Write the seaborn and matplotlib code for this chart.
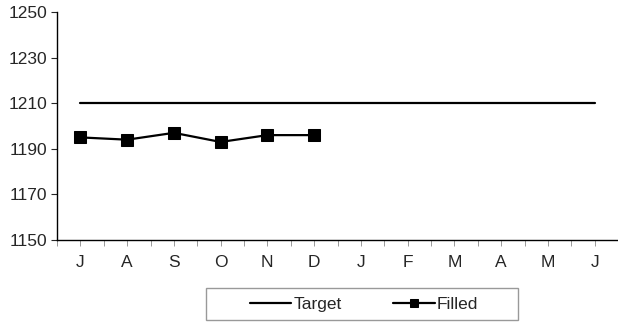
import matplotlib.pyplot as plt
import matplotlib.patches as mpatches
import numpy as np
import pandas as pd
import seaborn as sns

months = ['J', 'A', 'S', 'O', 'N', 'D', 'J', 'F', 'M', 'A', 'M', 'J']
target = [1210] * 12
filled = [1195, 1194, 1197, 1193, 1196, 1196]

sns.set_style("ticks")
plt.rcParams['font.family'] = ['Liberation Sans', 'DejaVu Sans']
plt.rcParams['font.size'] = 12.5

df_target = pd.DataFrame({'pos': np.arange(len(months)), 'value': target})
df_filled = pd.DataFrame({'pos': np.arange(len(filled)), 'value': filled})

fig = plt.figure(figsize=(6.18, 3.22), dpi=100)
ax = fig.add_axes([57 / 618, 1 - 240 / 322, 1 - 57 / 618, 228 / 322])

sns.lineplot(data=df_target, x='pos', y='value', color='black', linewidth=1.6,
             label='Target', ax=ax, legend=False)
sns.lineplot(data=df_filled, x='pos', y='value', color='black', linewidth=1.6,
             marker='s', markersize=8, markeredgecolor='black',
             label='Filled', ax=ax, legend=False)

ax.set_xlim(-0.5, 11.5)
ax.set_ylim(1150, 1250)
ax.set_yticks(np.arange(1150, 1251, 20))
ax.set_xticks(np.arange(len(months)))
ax.set_xticklabels(months)
ax.set_xticks(np.arange(-0.5, 12, 1), minor=True)
ax.tick_params(axis='x', which='both', length=4, width=0.6, color='#888888', pad=7)
ax.tick_params(axis='y', length=4, width=0.8, pad=3)
ax.set_xlabel('')
ax.set_ylabel('')
sns.despine(ax=ax, top=True, right=True)
for s in ['left', 'bottom']:
    ax.spines[s].set_linewidth(1.0)
    ax.spines[s].set_color('black')

# legend box like the spreadsheet one
box = mpatches.Rectangle((206 / 618, 1 - 320 / 322), 312 / 618, 32 / 322,
                         transform=fig.transFigure, fill=False,
                         edgecolor='#999999', linewidth=1.0)
fig.patches.append(box)
handles, labels = ax.get_legend_handles_labels()
fig.legend(handles, labels, loc='center', bbox_to_anchor=(364 / 618, 1 - 304 / 322),
           ncol=2, frameon=False, handlelength=2.4, handletextpad=0.1,
           columnspacing=3.0, markerscale=0.75, fontsize=12.5)

fig.savefig('out.png', dpi=100)
